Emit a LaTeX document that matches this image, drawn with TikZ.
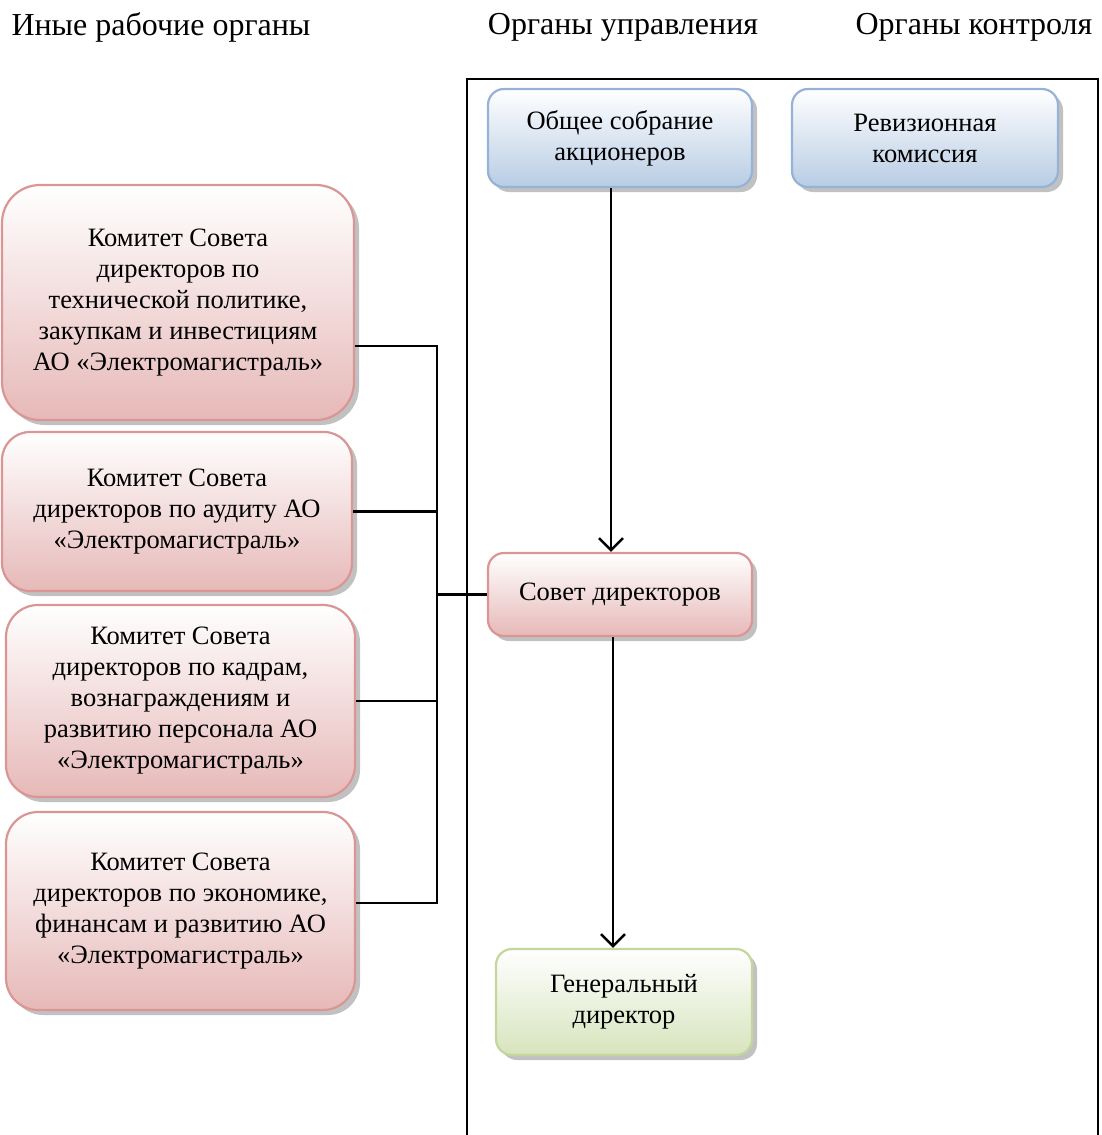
\documentclass[tikz,border=0pt]{standalone}
\usepackage{fontspec}
\setmainfont{Liberation Serif}
\usetikzlibrary{arrows.meta, positioning, shadows}
\definecolor{redline}{HTML}{D99694}
\definecolor{redfill}{HTML}{E6B9B8}
\definecolor{blueline}{HTML}{95B3D7}
\definecolor{bluefill}{HTML}{B8CCE4}
\definecolor{greenline}{HTML}{C3D69B}
\definecolor{greenfill}{HTML}{D7E4BD}
\tikzset{
  box/.style={rectangle, line width=2.2pt, align=center, inner sep=0pt,
    font=\fontsize{26.5}{31}\selectfont,
    drop shadow={shadow xshift=5pt, shadow yshift=-5pt, opacity=0.3, fill=black!80}},
  redbox/.style={box, draw=redline, top color=white, bottom color=redfill},
  bluebox/.style={box, draw=blueline, top color=white, bottom color=bluefill},
  greenbox/.style={box, draw=greenline, top color=white, bottom color=greenfill},
  head/.style={font=\fontsize{32}{36}\selectfont},
  link/.style={line width=2.5pt},
}

\begin{document}
\begin{tikzpicture}[x=1pt, y=-1pt, >={Straight Barb[length=12pt, width=24pt, line width=2.5pt]}]
\useasboundingbox (0,0) rectangle (1101,1135);
\node[head] (h1) at (161,27) {Иные рабочие органы};
\node[head] (h2) at (623,27) {Органы управления};
\node[head] (h3) at (974,27) {Органы контроля};
% frame
\draw[line width=2.5pt] (467,1145) -- (467,79) -- (1098,79) -- (1098,1145);
% governing bodies
\node[bluebox, rounded corners=16pt, minimum width=264pt, minimum height=98pt] (og) at (620,138) {Общее собрание\\акционеров};
\node[bluebox, rounded corners=16pt, minimum width=266pt, minimum height=98pt] (rk) at (925,138) {Ревизионная\\комиссия};
\node[redbox, rounded corners=16pt, minimum width=264pt, minimum height=83pt] (sd) at (620,594.5) {Совет директоров};
\node[greenbox, rounded corners=16pt, minimum width=256pt, minimum height=106pt] (gd) at (624,1002) {Генеральный\\директор};
% committees
\node[redbox, rounded corners=38pt, minimum width=352pt, minimum height=235pt] (k1) at (178,302.5) {Комитет Совета\\директоров по\\технической политике,\\закупкам и инвестициям\\АО «Электромагистраль»};
\node[redbox, rounded corners=28pt, minimum width=350pt, minimum height=159pt] (k2) at (177,511.5) {Комитет Совета\\директоров по аудиту АО\\«Электромагистраль»};
\node[redbox, rounded corners=32pt, minimum width=349pt, minimum height=192pt] (k3) at (180.5,701) {Комитет Совета\\директоров по кадрам,\\вознаграждениям и\\развитию персонала АО\\«Электромагистраль»};
\node[redbox, rounded corners=32pt, minimum width=349pt, minimum height=198pt] (k4) at (180.5,911) {Комитет Совета\\директоров по экономике,\\финансам и развитию АО\\«Электромагистраль»};
% connectors
\coordinate (bustop) at (437,346);
\coordinate (busbot) at (437,903);
\draw[link] (k1.east |- bustop) -- (bustop) -- (busbot) -- (k4.east |- busbot);
\draw[link] (k2.east) -- (k2.east -| bustop);
\draw[link] (k3.east) -- (k3.east -| bustop);
\draw[link] (sd.west -| bustop) -- (sd.west);
\draw[link, ->] ([xshift=-9pt]og.south) -- ([xshift=-9pt]og.south |- sd.north);
\draw[link, ->] ([xshift=-7pt]sd.south) -- ([xshift=-7pt]sd.south |- gd.north);
\end{tikzpicture}
\end{document}
